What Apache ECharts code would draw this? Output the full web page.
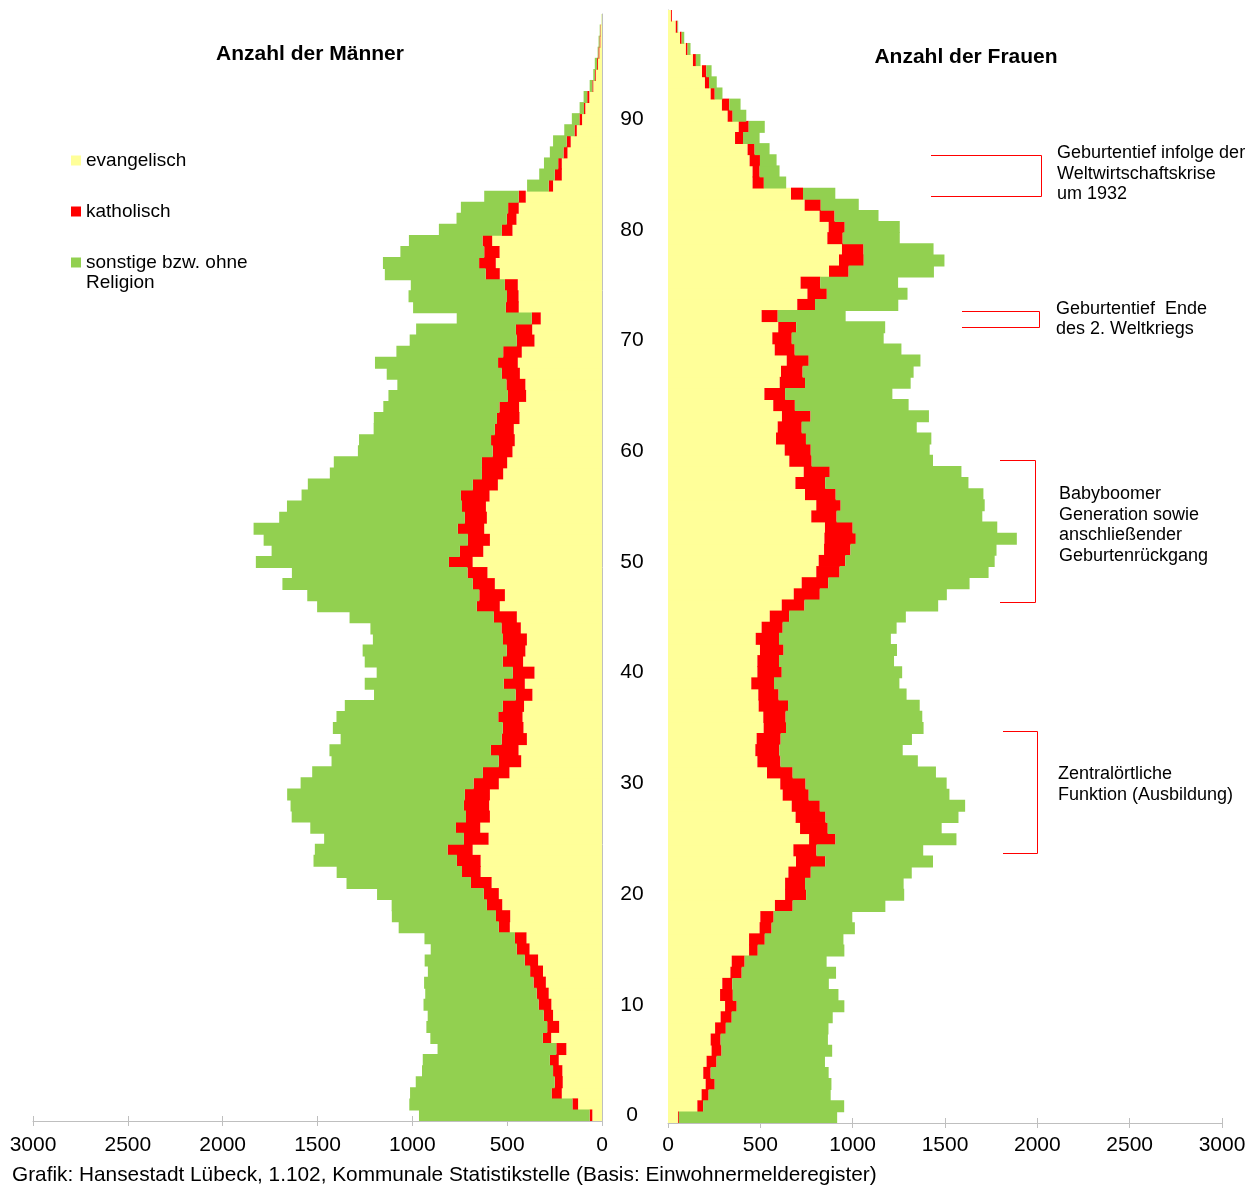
<!DOCTYPE html>
<html>
<head>
<meta charset="utf-8">
<script src="https://cdn.jsdelivr.net/npm/echarts@6/dist/echarts.min.js"></script>
<style>
html, body { margin: 0; padding: 0; background: #fff; }
#chart { width: 1255px; height: 1187px; }
</style>
</head>
<body>
<div id="chart"></div>
<script>
// Altersjahre 0 bis 99
const ages = Array.from({ length: 100 }, (_, i) => String(i));

// Männer
const menEv = [51,126,212,207,209,228,188,268,226,258, 267,281,296,311,337,382,398,486,484,526,
    544,582,640,640,682,598,642,591,595,591, 544,488,426,440,396,414,419,411,367,407,
    356,416,404,396,428,449,539,512,565,604, 682,626,591,621,607,612,593,549,521,500,
    472,460,465,435,437,400,404,433,444,423, 356,368,323,439,440,444,539,560,540,579,
    472,451,439,402,258,212,212,182,165,133, 105,88,67,46,33,21,14,9,7,2];
const menKath = [14,30,54,42,49,47,53,44,63,49, 67,63,65,68,70,67,61,58,75,81,
    79,109,98,125,132,130,128,126,133,132, 133,140,118,146,133,109,128,112,88,111,
    114,107,98,126,102,121,121,135,116,105, 125,123,116,139,116,126,151,132,112,133,
    104,125,100,119,104,96,100,95,104,98, 93,86,47,68,61,68,74,88,81,51,
    56,51,56,37,23,37,19,21,21,12, 14,7,11,5,4,5,5,4,2,0];
const menSonst = [900,860,746,733,691,670,626,593,637,612, 607,588,577,539,528,454,477,528,549,502,
    563,656,661,756,700,737,768,919,914,937, 912,900,882,851,849,896,853,833,747,733,
    718,728,760,686,691,761,842,907,1004,926, 1018,993,1077,1077,979,923,840,870,802,781,
    711,696,639,649,612,630,575,607,649,563, 565,526,396,489,519,496,532,507,442,388,
    332,265,249,182,114,82,75,72,72,54, 40,23,19,14,9,12,4,5,3,1];

// Frauen
const womEv = [54,159,182,204,191,209,236,231,255,285, 309,282,294,338,345,439,439,496,500,579,
    634,634,652,693,679,764,715,691,670,621, 608,536,484,473,480,518,516,491,489,451,
    484,484,498,475,507,551,616,681,724,803, 816,845,847,850,776,803,742,690,735,657,
    632,585,594,617,570,522,605,612,643,578, 565,597,507,700,755,718,872,926,942,863,
    870,821,740,666,458,458,442,431,363,383, 323,292,231,200,184,135,97,65,42,16];
const womKath = [5,31,38,49,40,54,54,54,58,60, 63,69,54,61,70,47,85,65,72,96,
    114,108,121,159,125,143,150,162,152,141, 137,139,125,130,130,121,121,159,110,123,
    132,117,128,126,114,105,123,141,144,126, 144,143,170,150,137,132,166,161,141,121,
    141,162,130,155,117,112,137,117,119,108, 105,97,87,96,105,106,106,134,117,83,
    87,81,87,65,61,38,56,38,43,54, 27,40,22,22,23,16,9,9,9,5];
const womSonst = [857,764,661,632,639,587,599,581,556,547, 583,572,523,511,444,469,426,451,426,502,
    531,534,547,583,578,655,617,720,787,762, 764,776,744,668,711,745,740,713,693,679,
    652,623,614,606,617,632,724,688,765,807, 809,791,872,783,789,780,800,776,713,657,
    644,679,623,641,616,581,572,601,605,578, 498,482,368,451,437,422,462,437,379,309,
    298,238,206,175,121,108,90,81,90,87, 74,61,42,42,29,25,16,14,4,0];

const seriesNames = ['evangelisch', 'katholisch', 'sonstige bzw. ohne Religion'];
const seriesColors = ['#ffff99', '#ff0000', '#92d050'];

const FONT = "'Liberation Sans', Arial, sans-serif";
const AXIS_GRAY = '#bfbfbf';

function barSeries(name, color, data, idx, stack) {
    return {
        name: name,
        type: 'bar',
        stack: stack,
        xAxisIndex: idx,
        yAxisIndex: idx,
        data: data,
        barWidth: 12, // etwas breiter als die Kategorie, damit keine hellen Fugen entstehen
        itemStyle: { color: color },
        silent: true
    };
}

function valueAxis(grid, inverse, margin) {
    return {
        gridIndex: grid,
        type: 'value',
        min: 0,
        max: 3000,
        interval: 500,
        inverse: inverse,
        axisLine: { show: true, lineStyle: { color: AXIS_GRAY } },
        axisTick: { show: true, length: 5, lineStyle: { color: AXIS_GRAY } },
        axisLabel: {
            fontSize: 21, color: '#000', fontFamily: FONT, margin: margin,
            formatter: function (v) { return String(v); }
        },
        splitLine: { show: false }
    };
}

// zweite Achse nur für die nach innen zeigenden Striche
function innerTickAxis(grid, inverse) {
    return {
        gridIndex: grid,
        type: 'value',
        min: 0,
        max: 3000,
        interval: 500,
        inverse: inverse,
        position: 'bottom',
        axisLine: { show: false },
        axisTick: { show: true, inside: true, length: 5, lineStyle: { color: AXIS_GRAY } },
        axisLabel: { show: false },
        splitLine: { show: false }
    };
}

const chart = echarts.init(document.getElementById('chart'));

const option = {
    animation: false,
    textStyle: { fontFamily: FONT },
    legend: {
        orient: 'vertical',
        left: 71,
        top: 150,
        padding: 0,
        itemWidth: 10,
        itemHeight: 10,
        itemGap: 30,
        icon: 'rect',
        selectedMode: false,
        textStyle: { fontSize: 19, color: '#000', fontFamily: FONT, lineHeight: 21 },
        formatter: function (name) {
            return name === 'sonstige bzw. ohne Religion' ? 'sonstige bzw. ohne' : name;
        },
        data: seriesNames
    },
    grid: [
        { left: 33, width: 569, top: 14, height: 1107 },
        { left: 668, width: 554, top: 10, height: 1113 }
    ],
    xAxis: [
        valueAxis(0, true, 14),
        valueAxis(1, false, 12),
        innerTickAxis(0, true),
        innerTickAxis(1, false)
    ],
    yAxis: [
        {
            gridIndex: 0,
            type: 'category',
            data: ages,
            position: 'right',
            axisLine: { show: true, lineStyle: { color: AXIS_GRAY } },
            axisTick: { show: false },
            axisLabel: {
                interval: function (index) { return index % 10 === 0; },
                align: 'center',
                margin: 30,
                fontSize: 21,
                color: '#000',
                fontFamily: FONT
            }
        },
        {
            gridIndex: 1,
            type: 'category',
            data: ages,
            position: 'left',
            axisLine: { show: true, lineStyle: { color: AXIS_GRAY } },
            axisTick: { show: false },
            axisLabel: { show: false }
        }
    ],
    series: [
        barSeries(seriesNames[0], seriesColors[0], menEv, 0, 'm'),
        barSeries(seriesNames[1], seriesColors[1], menKath, 0, 'm'),
        barSeries(seriesNames[2], seriesColors[2], menSonst, 0, 'm'),
        barSeries(seriesNames[0], seriesColors[0], womEv, 1, 'w'),
        barSeries(seriesNames[1], seriesColors[1], womKath, 1, 'w'),
        barSeries(seriesNames[2], seriesColors[2], womSonst, 1, 'w')
    ],
    graphic: [
        // Überschriften
        { type: 'text', style: { text: 'Anzahl der Männer', x: 310, y: 54, textAlign: 'center', textVerticalAlign: 'middle', font: 'bold 21px ' + FONT, fill: '#000' } },
        { type: 'text', style: { text: 'Anzahl der Frauen', x: 966, y: 57, textAlign: 'center', textVerticalAlign: 'middle', font: 'bold 21px ' + FONT, fill: '#000' } },
        // zweite Zeile des dritten Legendeneintrags
        { type: 'text', style: { text: 'Religion', x: 86, y: 283, textVerticalAlign: 'middle', font: '19px ' + FONT, fill: '#000' } },
        // Quelle
        { type: 'text', style: { text: 'Grafik: Hansestadt Lübeck, 1.102, Kommunale Statistikstelle (Basis: Einwohnermelderegister)', x: 12, y: 1175, textVerticalAlign: 'middle', font: '20.8px ' + FONT, fill: '#000' } },
        // Klammern
        { type: 'polyline', shape: { points: [[931, 155.5], [1041.5, 155.5], [1041.5, 196.5], [931, 196.5]] }, style: { stroke: '#ff0000', lineWidth: 1, fill: null } },
        { type: 'polyline', shape: { points: [[962, 311.5], [1039.5, 311.5], [1039.5, 327.5], [962, 327.5]] }, style: { stroke: '#ff0000', lineWidth: 1, fill: null } },
        { type: 'polyline', shape: { points: [[1000, 460.5], [1035.5, 460.5], [1035.5, 602.5], [1000, 602.5]] }, style: { stroke: '#ff0000', lineWidth: 1, fill: null } },
        { type: 'polyline', shape: { points: [[1003, 731.5], [1037.5, 731.5], [1037.5, 853.5], [1003, 853.5]] }, style: { stroke: '#ff0000', lineWidth: 1, fill: null } },
        // Anmerkungen
        { type: 'text', style: { text: 'Geburtentief infolge der\nWeltwirtschaftskrise\num 1932', x: 1057, y: 143, textVerticalAlign: 'top', font: '18px ' + FONT, lineHeight: 20.5, fill: '#000' } },
        { type: 'text', style: { text: 'Geburtentief  Ende\ndes 2. Weltkriegs', x: 1056, y: 299, textVerticalAlign: 'top', font: '18px ' + FONT, lineHeight: 20, fill: '#000' } },
        { type: 'text', style: { text: 'Babyboomer\nGeneration sowie\nanschließender\nGeburtenrückgang', x: 1059, y: 484, textVerticalAlign: 'top', font: '18px ' + FONT, lineHeight: 20.6, fill: '#000' } },
        { type: 'text', style: { text: 'Zentralörtliche\nFunktion (Ausbildung)', x: 1058, y: 763.5, textVerticalAlign: 'top', font: '18px ' + FONT, lineHeight: 21, fill: '#000' } }
    ]
};

chart.setOption(option);
window.addEventListener('resize', () => chart.resize());
</script>
</body>
</html>
